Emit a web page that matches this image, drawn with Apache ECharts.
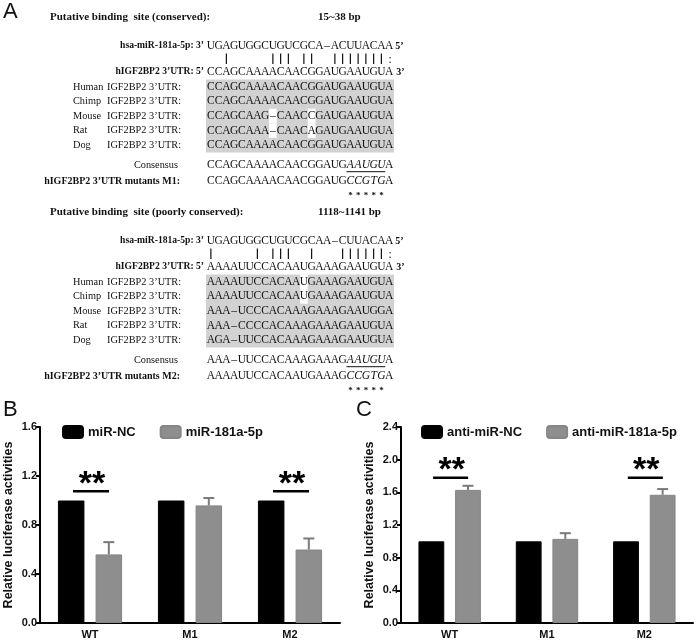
<!DOCTYPE html>
<html><head><meta charset="utf-8">
<script src="https://cdn.jsdelivr.net/npm/echarts@6/dist/echarts.min.js"></script>
<style>html,body{margin:0;padding:0;background:#fff}#c{width:700px;height:642px}</style>
</head><body><div id="c"></div>
<script>
// ---------- Data ----------
const categories = ['WT', 'M1', 'M2'];
const namesB = ['miR-NC', 'miR-181a-5p'];
const ncB = [1.00, 1.00, 1.00];
const mirB = [0.56, 0.96, 0.60];
const mirBErr = [0.10, 0.06, 0.09];
const namesC = ['anti-miR-NC', 'anti-miR-181a-5p'];
const ncC = [1.00, 1.00, 1.00];
const antiC = [1.63, 1.03, 1.57];
const antiCErr = [0.05, 0.07, 0.07];
const sigB = [[0, 1.075], [2, 1.075]];
const sigC = [[0, 1.78], [2, 1.78]];
const yMaxB = 1.6, yMaxC = 2.4, yStep = 0.4;
const yAxisName = 'Relative luciferase activities';

// Panel A sequence data
const site1 = {
  title: 'Putative binding  site (conserved):', range: '15~38 bp',
  mir: 'UGAGUGGCUGUCGCA\u2013ACUUACAA',
  pairs: [2, 8, 9, 10, 12, 13, 16, 17, 18, 19, 20, 21, 22], wobble: [23],
  target: 'CCAGCAAAACAACGGAUGAAUGUA',
  species: [
    ['Human', 'CCAGCAAAACAACGGAUGAAUGUA', []],
    ['Chimp', 'CCAGCAAAACAACGGAUGAAUGUA', []],
    ['Mouse', 'CCAGCAAG\u2013CAACCGAUGAAUGUA', [8, 13]],
    ['Rat', 'CCAGCAAA\u2013CAACAGAUGAAUGUA', [8, 13]],
    ['Dog', 'CCAGCAAAACAACGGAUGAAUGUA', []]
  ],
  consensus: 'CCAGCAAAACAACGGAUGAAUGUA',
  mutant: 'CCAGCAAAACAACGGAUGCCGTGA',
  mutLabel: 'hIGF2BP2 3\u2019UTR mutants M1:',
  seedRange: [18, 22]
};
const site2 = {
  title: 'Putative binding  site (poorly conserved):', range: '1118~1141 bp',
  mir: 'UGAGUGGCUGUCGCAA\u2013CUUACAA',
  pairs: [0, 6, 8, 9, 10, 13, 17, 18, 19, 20, 21, 22], wobble: [23],
  target: 'AAAAUUCCACAAUGAAAGAAUGUA',
  species: [
    ['Human', 'AAAAUUCCACAAUGAAAGAAUGUA', [12]],
    ['Chimp', 'AAAAUUCCACAAUGAAAGAAUGUA', [12]],
    ['Mouse', 'AAA\u2013UCCCACAAAGAAAGAAUGGA', []],
    ['Rat', 'AAA\u2013CCCCACAAAGAAAGAAUGUA', []],
    ['Dog', 'AGA\u2013UUCCACAAAGAAAGAAUGUA', []]
  ],
  consensus: 'AAA\u2013UUCCACAAAGAAAGAAUGUA',
  mutant: 'AAAAUUCCACAAUGAAAGCCGTGA',
  mutLabel: 'hIGF2BP2 3\u2019UTR mutants M2:',
  seedRange: [18, 22]
};

// ---------- Panel A drawing ----------
const X0 = 207, STEP = 7.75;
const SERIF = '"Liberation Serif", "DejaVu Serif", serif';
const titleFont = 'bold 11px ' + SERIF;
const labFont = 'bold 10px ' + SERIF;
const labFontS = 'bold 9.6px ' + SERIF;
const spFont = '10.3px ' + SERIF;
const seqFont = '11.5px ' + SERIF;
const seqFontI = 'italic 11.5px ' + SERIF;
const g = [];
function txt(t, x, y, font, align) {
  g.push({ type: 'text', x: x, y: y, z: 10,
    style: { text: t, font: font, fill: '#111', textAlign: align || 'left', textVerticalAlign: 'middle' } });
}
function colX(i) { return X0 + STEP * (i + 0.5); }
function seq(s, y, italicRange) {
  for (let i = 0; i < s.length; i++) {
    const it = italicRange && i >= italicRange[0] && i <= italicRange[1];
    txt(s[i], colX(i), y, it ? seqFontI : seqFont, 'center');
  }
}
function drawSite(site, base) {
  const y = base;
  txt(site.title, 50, y, titleFont);
  txt(site.range, 318, y, titleFont);
  const yMir = y + 29, yBar = y + 42, yT = y + 55;
  txt('hsa-miR-181a-5p: 3\u2019', 204, yMir, labFontS, 'right');
  seq(site.mir, yMir);
  txt('5\u2019', colX(23) + 6, yMir, labFont, 'left');
  site.pairs.forEach(i => g.push({ type: 'line', z: 10, shape: { x1: colX(i), y1: yBar - 5.5, x2: colX(i), y2: yBar + 5 }, style: { stroke: '#111', lineWidth: 1.2 } }));
  site.wobble.forEach(i => txt(':', colX(i) + 1, yBar + 1, seqFont, 'center'));
  txt('hIGF2BP2 3\u2019UTR: 5\u2019', 204, yT, labFontS, 'right');
  seq(site.target, yT);
  txt('3\u2019', colX(23) + 7, yT, labFont, 'left');
  const rowH = 14.6, ySp = yT + 14.8;
  g.push({ type: 'rect', z: 1, shape: { x: X0 - 1, y: ySp - rowH / 2, width: STEP * 24 + 2, height: rowH * 5 }, style: { fill: '#d2d2d2' } });
  site.species.forEach((sp, k) => {
    const yy = ySp + k * rowH;
    txt(sp[0], 73, yy, spFont);
    txt('IGF2BP2 3\u2019UTR:', 107, yy, spFont);
    sp[2].forEach(i => g.push({ type: 'rect', z: 2, shape: { x: X0 + STEP * i, y: yy - rowH / 2, width: STEP, height: rowH }, style: { fill: '#fff' } }));
    seq(sp[1], yy);
  });
  const yCons = ySp + 4 * rowH + 20, yMut = yCons + 16;
  txt('Consensus', 178, yCons, spFont, 'right');
  seq(site.consensus, yCons, site.seedRange);
  g.push({ type: 'line', z: 10, shape: { x1: X0 + STEP * site.seedRange[0], y1: yCons + 6.5, x2: X0 + STEP * (site.seedRange[1] + 1), y2: yCons + 6.5 }, style: { stroke: '#111', lineWidth: 1 } });
  txt(site.mutLabel, 180, yMut, labFont, 'right');
  seq(site.mutant, yMut, site.seedRange);
  for (let i = site.seedRange[0]; i <= site.seedRange[1]; i++) txt('*', colX(i), yMut + 14, 'bold 9px ' + SERIF, 'center');
}
const panelFont = '22px "Liberation Sans", Arial, sans-serif';
txt('A', 3, 12, panelFont);
drawSite(site1, 17);
drawSite(site2, 212);
txt('B', 3, 410, panelFont);
txt('C', 356, 410, panelFont);

// ---------- Charts B & C ----------
const sans = '"Liberation Sans", Arial, sans-serif';
const BLACK = '#000', GRAY = '#8e8e8e';
const BW = 0.265, GAP = 0.42;
function errSeries(xi, yi, vals, errs) {
  return {
    type: 'custom', xAxisIndex: xi, yAxisIndex: yi, z: 5,
    data: vals.map((v, i) => [i, v, errs[i]]),
    renderItem: function (params, api) {
      const band = api.size([1, 0])[0];
      const off = band * (BW + BW * GAP) / 2;
      const p0 = api.coord([api.value(0), api.value(1)]);
      const p1 = api.coord([api.value(0), api.value(1) + api.value(2)]);
      const x = p0[0] + off;
      const st = { stroke: '#7a7a7a', lineWidth: 2 };
      return { type: 'group', children: [
        { type: 'line', shape: { x1: x, y1: p0[1], x2: x, y2: p1[1] }, style: st },
        { type: 'line', shape: { x1: x - 5.5, y1: p1[1], x2: x + 5.5, y2: p1[1] }, style: st }
      ] };
    }
  };
}
function sigSeries(xi, yi, data) {
  return {
    type: 'custom', xAxisIndex: xi, yAxisIndex: yi, z: 6,
    data: data,
    renderItem: function (params, api) {
      const band = api.size([1, 0])[0];
      const p = api.coord([api.value(0), api.value(1)]);
      const cx = p[0] + band * 0.01, hw = band * 0.18;
      return { type: 'group', children: [
        { type: 'line', shape: { x1: cx - hw, y1: p[1], x2: cx + hw, y2: p[1] }, style: { stroke: '#000', lineWidth: 2.5 } },
        { type: 'text', x: cx + 1, y: p[1] + 10, style: { text: '**', font: 'bold 34px ' + sans, fill: '#000', textAlign: 'center', textVerticalAlign: 'bottom' } }
      ] };
    }
  };
}
function yAxisCfg(gi, max) {
  return {
    type: 'value', gridIndex: gi, min: 0, max: max, interval: yStep,
    name: yAxisName, nameLocation: 'middle', nameGap: 25,
    nameTextStyle: { color: '#111', fontWeight: 'bold', fontSize: 12.5, fontFamily: sans },
    axisLine: { show: true, lineStyle: { color: '#000', width: 2 } },
    axisTick: { show: true, length: 4, lineStyle: { color: '#000', width: 2 } },
    axisLabel: { color: '#111', fontWeight: 'bold', fontSize: 11, fontFamily: sans, margin: 3, formatter: v => v.toFixed(1) },
    splitLine: { show: false }
  };
}
function xAxisCfg(gi) {
  return {
    type: 'category', gridIndex: gi, data: categories,
    axisLine: { lineStyle: { color: '#000', width: 2 } },
    axisTick: { show: false },
    axisLabel: { color: '#111', fontWeight: 'bold', fontSize: 11, fontFamily: sans, margin: 6 }
  };
}
function barSeries(name, xi, yi, vals, color) {
  return { name: name, type: 'bar', xAxisIndex: xi, yAxisIndex: yi, data: vals,
    barWidth: (BW * 100) + '%', barGap: (GAP * 100) + '%',
    itemStyle: { color: color, borderColor: color === BLACK ? '#000' : '#858585', borderWidth: 1 } };
}
const legendText = { color: '#111', fontWeight: 'bold', fontSize: 13, fontFamily: sans };
const option = {
  animation: false,
  backgroundColor: '#fff',
  graphic: { elements: g },
  legend: [
    { data: namesB, left: 57, top: 420, itemWidth: 20, itemHeight: 12, itemGap: 24, icon: 'roundRect', textStyle: legendText },
    { data: namesC, left: 416, top: 420, itemWidth: 20, itemHeight: 12, itemGap: 24, icon: 'roundRect', textStyle: legendText }
  ],
  grid: [
    { left: 40, top: 427, width: 300, height: 196 },
    { left: 401, top: 427, width: 292, height: 196 }
  ],
  xAxis: [xAxisCfg(0), xAxisCfg(1)],
  yAxis: [yAxisCfg(0, yMaxB), yAxisCfg(1, yMaxC)],
  series: [
    barSeries(namesB[0], 0, 0, ncB, BLACK),
    barSeries(namesB[1], 0, 0, mirB, GRAY),
    errSeries(0, 0, mirB, mirBErr),
    sigSeries(0, 0, sigB),
    barSeries(namesC[0], 1, 1, ncC, BLACK),
    barSeries(namesC[1], 1, 1, antiC, GRAY),
    errSeries(1, 1, antiC, antiCErr),
    sigSeries(1, 1, sigC)
  ]
};
const chart = echarts.init(document.getElementById('c'), null, { renderer: 'canvas' });
chart.setOption(option);
</script>
</body></html>
